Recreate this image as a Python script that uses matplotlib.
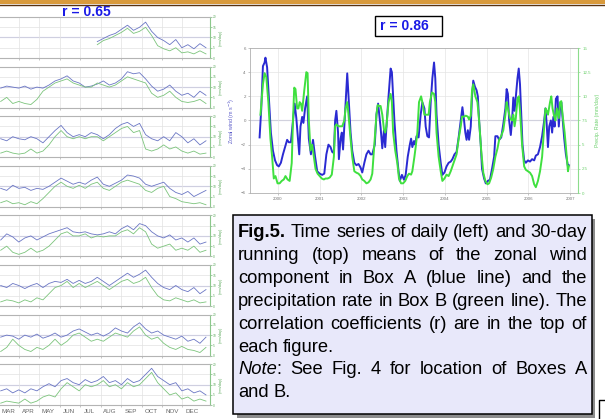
import matplotlib
matplotlib.use("Agg")
import matplotlib.pyplot as plt
import numpy as np
from matplotlib.patches import Rectangle
from matplotlib.lines import Line2D

plt.rcParams['font.family'] = ['Liberation Sans', 'DejaVu Sans']

W, H = 605, 419

# ---- left: daily series, one panel per year (day of year on x) ----
days = list(range(64, 371, 9))
month_names = ["MAR", "APR", "MAY", "JUN", "JUL", "AUG", "SEP", "OCT", "NOV", "DEC"]
month_mid = [76, 105, 135, 166, 196, 227, 258, 288, 319, 349]
month_start = [91, 121, 152, 182, 213, 244, 274, 305, 335]
nan = np.nan

wind_daily = [
    [nan] * 16 + [8, 9.5, 11, 12, 14, 16, 13.5, 15, 17.5, 13,
                  10, 8.5, 6.5, 9, 5, 6.5, 4.5, 7, 5],
    [9.5, 10.5, 10, 9.5, 10.5, 9, 10, 9.5, 11, 13,
     14, 15.5, 13, 12, 10, 10.5, 11.5, 13, 11, 12,
     14, 17.5, 16.5, 17, 14, 10.5, 8, 9, 11, 8,
     6, 7, 5, 8, 6],
    [9, 8, 10, 9, 8.5, 10, 9, 7, 10, 13,
     15.5, 12, 10, 11, 10, 12, 11, 9, 11, 14,
     16, 17, 15, 16.5, 11, 9, 8, 10, 8, 12,
     10, 7, 9, 6, 8],
    [9, 8, 10.5, 9, 9.5, 8, 9, 8.5, 10, 12,
     14, 12.5, 11, 12, 11, 13, 14.5, 11, 10, 11.5,
     13, 15.5, 15, 14, 11, 10, 11, 12, 9, 7,
     6, 7.5, 5, 6.5, 8],
    [8, 11, 9.5, 7, 9, 10, 8, 9.5, 11, 12,
     13, 14, 12, 11.5, 12, 11, 10.5, 11, 12, 11,
     13.5, 15, 13, 16, 15, 12, 10, 9, 10.5, 8,
     9, 7, 9, 6, 7],
    [10, 9, 11, 10, 8.5, 10, 11, 9, 11, 12,
     11.5, 13, 11, 12.5, 11, 12, 14, 12, 10, 12,
     14, 16, 14, 15.5, 17.5, 14, 11, 9, 8, 10,
     8, 7, 9, 6, 8],
    [9, 10, 9.5, 8, 10, 9, 10.5, 8.5, 9.5, 11,
     9, 10, 12, 13, 11.5, 10, 11, 9.5, 11, 13.5,
     12, 11, 14, 16, 13, 11, 12, 10, 9, 8,
     9.5, 7, 8, 6, 9],
    [7, 8, 6, 7.5, 6, 8, 7, 9, 10.5, 9,
     12, 13, 11, 10, 12.5, 11, 12, 14, 11, 12,
     10, 13, 11, 12, 15, 18, 14, 12, 10, 11,
     7, 8, 6, 7, 5],
]

rain_daily = [
    [nan] * 16 + [6.5, 8.5, 9.5, 11, 12.5, 14.5, 12, 13, 15, 11,
                  6, 4.5, 3.5, 5, 2.5, 3, 2, 3.5, 2],
    [3, 5, 2, 3, 2, 1.5, 4, 8, 10, 12,
     13, 14, 12, 11, 10, 10, 12, 11, 10, 11,
     13, 15, 14, 13, 12, 7, 5, 6, 8, 5,
     3, 2.5, 3, 4, 2],
    [2, 3, 2, 1.5, 2, 4, 2, 3, 6, 10,
     13, 10, 9, 10, 9, 10, 10, 8, 10, 12,
     14, 15, 12, 13, 4, 3, 4, 6, 4, 5,
     3, 2, 3, 1.5, 2],
    [2, 3, 1.5, 2, 1, 2.5, 1.5, 4, 7, 10,
     12, 10, 9, 10.5, 9, 11, 12, 9, 8, 10,
     12, 13, 12, 11, 8, 7, 9, 10, 5, 4,
     2.5, 2, 1.5, 2, 1],
    [3, 5, 2, 1, 2, 4, 2, 3, 5, 8,
     11, 12, 10, 10, 11, 9, 10, 9.5, 10, 10,
     12, 13, 11, 14, 12, 6, 4, 5, 6, 3,
     4, 3, 5, 2, 3],
    [2, 3, 2.5, 1.5, 3, 2, 4, 3, 6, 9,
     10, 12, 9, 11, 9, 10.5, 12, 10, 8, 10,
     12, 13, 11, 12, 14, 9, 5, 3, 2.5, 4,
     3, 2, 3, 1.5, 2],
    [2, 4, 8, 5, 3, 2, 4, 3, 5, 8,
     5, 7, 10, 11, 9, 7, 8, 7, 9, 11,
     10, 9, 12, 14, 10, 8, 9, 6, 4, 3,
     4.5, 3, 2.5, 1.5, 4],
    [1, 2, 1.5, 1, 3, 1, 2, 4, 5, 4,
     8, 11, 9, 7, 10, 9, 10, 12, 9, 10,
     8, 11, 9, 10, 13, 16, 11, 8, 5, 6,
     3, 4, 2, 3, 2],
]

# ---- top right: 30-day running means ----
wind_30d = [
    (1999.56, -1.4), (1999.60, 1.0), (1999.64, 4.5), (1999.68, 4.8), (1999.70, 5.2),
    (1999.74, 4.4), (1999.78, 2.0), (1999.83, -1.0), (1999.88, -2.5), (1999.93, -3.3),
    (1999.98, -3.7),
    (2000.02, -3.8), (2000.07, -3.5), (2000.12, -2.8), (2000.17, -2.2), (2000.22, -1.6),
    (2000.26, -1.8), (2000.31, -1.8), (2000.36, 0.0), (2000.40, 1.4), (2000.44, 0.2),
    (2000.48, -1.5), (2000.51, -2.8), (2000.54, -0.5), (2000.58, 0.3), (2000.61, -0.2),
    (2000.65, 1.0), (2000.70, 2.0), (2000.74, -1.5), (2000.79, -2.8), (2000.84, -1.6),
    (2000.89, -3.0), (2000.94, -4.2),
    (2001.00, -4.4), (2001.06, -4.5), (2001.11, -4.4), (2001.16, -2.8), (2001.21, -2.0),
    (2001.26, -2.2), (2001.30, -2.6), (2001.34, -2.7), (2001.37, 0.0), (2001.40, 0.8),
    (2001.44, -1.0), (2001.46, -3.2), (2001.50, -1.5), (2001.53, -1.0), (2001.56, -2.4),
    (2001.59, -0.5), (2001.62, 1.5), (2001.66, 3.9), (2001.69, 2.0), (2001.74, -1.0),
    (2001.78, -2.5), (2001.83, -3.5), (2001.88, -3.7), (2001.93, -3.6), (2001.98, -3.9),
    (2002.02, -4.3), (2002.07, -3.5), (2002.12, -2.8), (2002.17, -2.5), (2002.22, -2.8),
    (2002.26, -2.8), (2002.32, -2.0), (2002.36, 0.5), (2002.40, 1.4), (2002.46, -0.6),
    (2002.50, -2.3), (2002.54, -0.8), (2002.57, -2.2), (2002.60, -0.5), (2002.65, 2.0),
    (2002.70, 4.3), (2002.73, 4.0), (2002.76, 2.0), (2002.79, 0.0), (2002.84, -2.5),
    (2002.89, -4.2), (2002.92, -5.0), (2002.97, -4.5),
    (2003.02, -4.9), (2003.06, -4.5), (2003.11, -3.0), (2003.16, -2.0), (2003.19, -1.5),
    (2003.22, -2.2), (2003.26, -1.7), (2003.29, -2.0), (2003.32, -1.3), (2003.37, -1.4),
    (2003.42, 0.5), (2003.46, 1.5), (2003.51, 1.0), (2003.54, -0.5), (2003.58, -1.3),
    (2003.62, -1.4), (2003.66, 1.5), (2003.70, 3.5), (2003.74, 4.8), (2003.77, 3.5),
    (2003.80, 0.5), (2003.85, -2.0), (2003.90, -3.5), (2003.94, -4.5), (2003.99, -4.3),
    (2004.04, -3.8), (2004.09, -3.5), (2004.14, -3.4), (2004.18, -3.2), (2004.23, -2.8),
    (2004.28, -2.6), (2004.33, -1.4), (2004.38, 0.0), (2004.42, 1.1), (2004.46, 0.0),
    (2004.49, -1.0), (2004.52, -1.6), (2004.55, -0.8), (2004.58, -1.6), (2004.62, -0.5),
    (2004.65, 2.0), (2004.68, 3.3), (2004.72, 2.8), (2004.76, 2.5), (2004.79, 2.0),
    (2004.82, 0.0), (2004.86, -2.0), (2004.89, -4.0), (2004.94, -4.8), (2004.98, -5.2),
    (2005.03, -5.0), (2005.08, -4.9), (2005.13, -4.0), (2005.18, -3.0), (2005.21, -1.3),
    (2005.26, -1.3), (2005.30, -1.6), (2005.35, -1.4), (2005.40, -0.3), (2005.45, 1.0),
    (2005.48, 2.6), (2005.51, 2.2), (2005.54, 0.0), (2005.58, -1.2), (2005.61, 0.0),
    (2005.64, 1.9), (2005.67, 0.8), (2005.70, 2.0), (2005.74, 3.5), (2005.77, 4.3),
    (2005.80, 3.0), (2005.83, 0.5), (2005.86, -2.0), (2005.90, -3.3), (2005.94, -3.5),
    (2005.99, -3.3),
    (2006.04, -3.4), (2006.09, -3.2), (2006.14, -3.3), (2006.18, -2.9), (2006.23, -2.8),
    (2006.28, -2.2), (2006.33, -1.3), (2006.38, 0.0), (2006.41, 1.0), (2006.44, -0.3),
    (2006.47, -2.2), (2006.50, -0.5), (2006.54, 0.0), (2006.57, -1.0), (2006.60, 0.3),
    (2006.63, -0.5), (2006.66, 1.8), (2006.70, 2.0), (2006.73, -0.5), (2006.76, 1.0),
    (2006.79, 1.5), (2006.82, 0.2), (2006.86, -1.5), (2006.90, -2.8), (2006.95, -3.8),
    (2006.97, -3.7),
]

rain_30d = [
    (1999.58, 8.1), (1999.64, 11.25), (1999.68, 12.4), (1999.72, 12.0), (1999.77, 9.4),
    (1999.82, 5.6), (1999.86, 3.75), (1999.90, 1.5), (1999.94, 1.75), (1999.99, 1.0),
    (2000.04, 1.0), (2000.09, 1.25), (2000.14, 1.4), (2000.18, 1.75), (2000.23, 1.4),
    (2000.28, 1.25), (2000.33, 3.1), (2000.36, 7.5), (2000.39, 10.9), (2000.42, 10.75),
    (2000.46, 8.75), (2000.49, 8.75), (2000.52, 9.4), (2000.55, 9.25), (2000.58, 8.5),
    (2000.63, 10.6), (2000.68, 12.5), (2000.71, 12.4), (2000.74, 7.5), (2000.78, 4.4),
    (2000.82, 5.0), (2000.86, 3.75), (2000.90, 2.5), (2000.95, 2.0),
    (2001.00, 1.75), (2001.05, 1.5), (2001.10, 1.4), (2001.14, 1.5), (2001.19, 1.5),
    (2001.24, 1.6), (2001.29, 1.9), (2001.34, 3.75), (2001.37, 6.9), (2001.40, 7.1),
    (2001.45, 6.9), (2001.50, 6.9), (2001.54, 6.9), (2001.59, 7.5), (2001.62, 8.75),
    (2001.66, 9.4), (2001.69, 8.1), (2001.74, 5.6), (2001.78, 3.75), (2001.83, 2.25),
    (2001.88, 2.1), (2001.93, 2.0), (2001.98, 1.75),
    (2002.02, 1.4), (2002.07, 1.25), (2002.12, 1.0), (2002.17, 1.1), (2002.22, 1.4),
    (2002.26, 2.0), (2002.31, 5.0), (2002.36, 8.1), (2002.39, 9.1), (2002.42, 9.0),
    (2002.46, 9.0), (2002.50, 8.1), (2002.54, 6.6), (2002.57, 6.25), (2002.60, 6.9),
    (2002.65, 9.4), (2002.70, 10.25), (2002.73, 9.4), (2002.76, 6.25), (2002.81, 4.4),
    (2002.86, 3.1), (2002.90, 1.5), (2002.95, 1.0),
    (2003.00, 1.0), (2003.05, 1.25), (2003.10, 1.75), (2003.14, 2.0), (2003.19, 1.9),
    (2003.22, 2.25), (2003.27, 3.75), (2003.30, 4.75), (2003.34, 6.25), (2003.38, 9.4),
    (2003.43, 10.0), (2003.46, 9.4), (2003.51, 8.1), (2003.56, 8.1), (2003.61, 8.1),
    (2003.64, 9.4), (2003.69, 10.4), (2003.74, 10.25), (2003.77, 9.4), (2003.80, 6.25),
    (2003.85, 3.75), (2003.90, 2.25), (2003.94, 1.25), (2003.99, 1.5),
    (2004.04, 1.9), (2004.09, 1.75), (2004.14, 2.25), (2004.18, 2.75), (2004.23, 3.4),
    (2004.28, 4.0), (2004.33, 5.6), (2004.38, 6.9), (2004.41, 7.9), (2004.46, 7.9),
    (2004.50, 8.0), (2004.55, 7.9), (2004.58, 7.6), (2004.62, 8.0), (2004.65, 10.6),
    (2004.68, 11.25), (2004.73, 10.0), (2004.78, 9.4), (2004.82, 7.5), (2004.87, 4.4),
    (2004.92, 2.1), (2004.97, 1.25),
    (2005.02, 0.9), (2005.06, 1.0), (2005.11, 1.6), (2005.16, 2.5), (2005.21, 3.75),
    (2005.26, 4.6), (2005.30, 5.5), (2005.35, 5.9), (2005.40, 6.5), (2005.45, 8.1),
    (2005.48, 9.4), (2005.51, 8.75), (2005.56, 7.75), (2005.61, 7.5), (2005.64, 8.1),
    (2005.67, 6.9), (2005.70, 7.75), (2005.74, 9.75), (2005.77, 10.0), (2005.80, 8.5),
    (2005.85, 5.0), (2005.90, 2.75), (2005.94, 2.4), (2005.99, 2.25),
    (2006.04, 2.1), (2006.09, 1.75), (2006.14, 0.9), (2006.18, 0.6), (2006.23, 1.25),
    (2006.28, 2.25), (2006.33, 3.75), (2006.38, 6.9), (2006.41, 8.75), (2006.44, 8.5),
    (2006.47, 8.1), (2006.52, 9.4), (2006.55, 10.0), (2006.58, 8.75), (2006.62, 7.9),
    (2006.65, 7.5), (2006.68, 8.75), (2006.73, 7.75), (2006.76, 9.4), (2006.79, 9.5),
    (2006.82, 8.1), (2006.87, 6.25), (2006.92, 3.75), (2006.95, 2.25), (2006.97, 2.75),
]

years = [2000, 2001, 2002, 2003, 2004, 2005, 2006, 2007]
r_daily = "r = 0.65"
r_running = "r = 0.86"

caption = [
    ([[("Fig.5.", "bold")], "Time", "series", "of", "daily", "(left)", "and", "30-day"], True),
    (["running", "(top)", "means", "of", "the", "zonal", "wind"], True),
    (["component", "in", "Box", "A", "(blue", "line)", "and", "the"], True),
    (["precipitation", "rate", "in", "Box", "B", "(green", "line).", "The"], True),
    (["correlation", "coefficients", "(r)", "are", "in", "the", "top", "of"], True),
    (["each", "figure."], False),
    ([[("Note", "italic"), (":", "normal")], "See", "Fig.", "4", "for", "location", "of", "Boxes", "A"], True),
    (["and", "B."], False),
]


def fx(px):
    return px / W


def fy(py):
    return 1 - py / H


fig = plt.figure(figsize=(W / 100, H / 100), dpi=100)
fig.patch.set_facecolor("white")

BLUE_D = "#6a76c4"
GREEN_D = "#7cc47c"

# left stack of daily panels
for k in range(8):
    top = 17 + 49.6 * k
    ax = fig.add_axes([fx(-2), fy(top + 41), 212 / W, 41 / H])
    ax.plot(days, wind_daily[k], color=BLUE_D, lw=0.6)
    ax.plot(days, rain_daily[k], color=GREEN_D, lw=0.6)
    ax.axhline(10, color="#a4a4dc", lw=0.8, zorder=0)
    ax.set_xlim(60, 376)
    ax.set_ylim(0, 20)
    ax.set_xticks(month_start)
    ax.set_xticklabels([])
    ax.tick_params(axis="x", length=1.2, width=0.4, color="#999999")
    ax.yaxis.tick_right()
    ax.set_yticks([0, 5, 10, 15, 20])
    ax.tick_params(axis="y", labelsize=2.3, labelcolor="#5aa85a", length=1.2,
                   width=0.4, color="#5aa85a", pad=0.8)
    ax.yaxis.set_label_position("right")
    ax.set_ylabel("(mm/day)", color="#5aa85a", fontsize=2.8, labelpad=1.5)
    ax.grid(color="#e2e2e2", lw=0.5)
    for s in ax.spines.values():
        s.set_color("#b4b4b4")
        s.set_linewidth(0.8)
    ax.spines["right"].set_color("#8cc88c")
    if k == 7:
        ax.set_xticks(month_mid, minor=True)
        ax.set_xticklabels(month_names, minor=True)
        ax.tick_params(axis="x", which="minor", length=0, labelsize=4.5,
                       labelcolor="#666666", pad=2.5)

fig.text(fx(62), fy(12.5), r_daily, color="#1a1ae6", fontsize=10,
         fontweight="bold", va="center", ha="left")

# top-right running means
ax = fig.add_axes([fx(250), fy(193), 328 / W, 145 / H])
wt, wv = zip(*wind_30d)
ax.plot(wt, wv, color="#2a2ad2", lw=1.4)
ax.axhline(0, color="#a8a8d0", lw=0.8, zorder=0)
ax.set_xlim(1999.33, 2007.19)
ax.set_ylim(-6, 6)
ax.set_xticks(years)
ax.set_yticks([-6, -4, -2, 0, 2, 4, 6])
ax.tick_params(labelsize=3.2, labelcolor="#777777", length=1.5, width=0.4,
               color="#999999", pad=1.5)
ax.grid(color="#e4e4e4", lw=0.5)
ax.set_ylabel("Zonal wind (m s$^{-1}$)", color="#5a5ac8", fontsize=3.8, labelpad=3)
for s in ax.spines.values():
    s.set_color("#b0b0b0")
    s.set_linewidth(0.6)

ax2 = ax.twinx()
rt, rv = zip(*rain_30d)
ax2.plot(rt, rv, color="#3fe03f", lw=1.4)
ax2.set_ylim(0, 15)
ax2.set_yticks([0, 2.5, 5, 7.5, 10, 12.5, 15])
ax2.set_yticklabels(["0", "2.5", "5", "7.5", "10", "12.5", "15"])
ax2.tick_params(labelsize=3.2, labelcolor="#6cd06c", length=1.5, width=0.4,
                color="#6cd06c", pad=1.5)
ax2.set_ylabel("Precip. Rate (mm/day)", color="#6cd06c", fontsize=3.8, labelpad=3)
ax2.spines["right"].set_color("#8cdc8c")
for s in ["left", "top", "bottom"]:
    ax2.spines[s].set_visible(False)

# r = 0.86 box
fig.patches.append(Rectangle((fx(375), fy(36)), 67 / W, 20 / H, transform=fig.transFigure,
                             facecolor="white", edgecolor="black", lw=1, zorder=5))
fig.text(fx(380), fy(26.5), r_running, color="#1a1ae6", fontsize=10,
         fontweight="bold", va="center", ha="left", zorder=6)

# top decorative band
fig.patches.append(Rectangle((0, fy(4.5)), 1, 4.5 / H, transform=fig.transFigure,
                             facecolor="#d99a3c", edgecolor="none", zorder=5))
fig.lines.append(Line2D([0, 1], [fy(5), fy(5)], transform=fig.transFigure,
                        color="#5a3210", lw=1, zorder=6))

# caption box with shadow
fig.patches.append(Rectangle((fx(237), fy(418)), (595 - 237) / W, (418 - 219) / H,
                             transform=fig.transFigure, facecolor="#8c8c8c",
                             edgecolor="none", zorder=3))
fig.patches.append(Rectangle((fx(233), fy(414)), (592 - 233) / W, (414 - 215) / H,
                             transform=fig.transFigure, facecolor="#e8e8fa",
                             edgecolor="black", lw=1.1, zorder=4))

# small bracket bottom right
fig.lines.append(Line2D([fx(599), fx(599), fx(606)], [fy(420), fy(400), fy(400)],
                        transform=fig.transFigure, color="black", lw=1, zorder=6))

renderer = fig.canvas.get_renderer()
FS = 13.2
x0, x1 = 238, 587


def style_kw(st):
    if st == "bold":
        return dict(fontweight="bold")
    if st == "italic":
        return dict(fontstyle="italic")
    return {}


def make(word, px, py):
    segs = word if isinstance(word, list) else [(word, "normal")]
    arts = []
    x = px
    for txt, st in segs:
        t = fig.text(fx(x), fy(py), txt, fontsize=FS, va="baseline", ha="left",
                     color="black", zorder=7, **style_kw(st))
        w = t.get_window_extent(renderer).width
        arts.append((t, w))
        x += w
    return arts, x - px


ta = fig.text(0, 0, "a a", fontsize=FS)
tb = fig.text(0, 0, "aa", fontsize=FS)
space_w = ta.get_window_extent(renderer).width - tb.get_window_extent(renderer).width
ta.remove()
tb.remove()

for i, (words, justify) in enumerate(caption):
    py = 237 + 22.9 * i
    placed = [make(w, 0, py) for w in words]
    widths = [p[1] for p in placed]
    if justify and len(words) > 1:
        gap = (x1 - x0 - sum(widths)) / (len(words) - 1)
    else:
        gap = space_w
    x = x0
    for arts, wtot in placed:
        xx = x
        for t, w in arts:
            t.set_x(fx(xx))
            xx += w
        x += wtot + gap

fig.savefig("out.png", dpi=100)
